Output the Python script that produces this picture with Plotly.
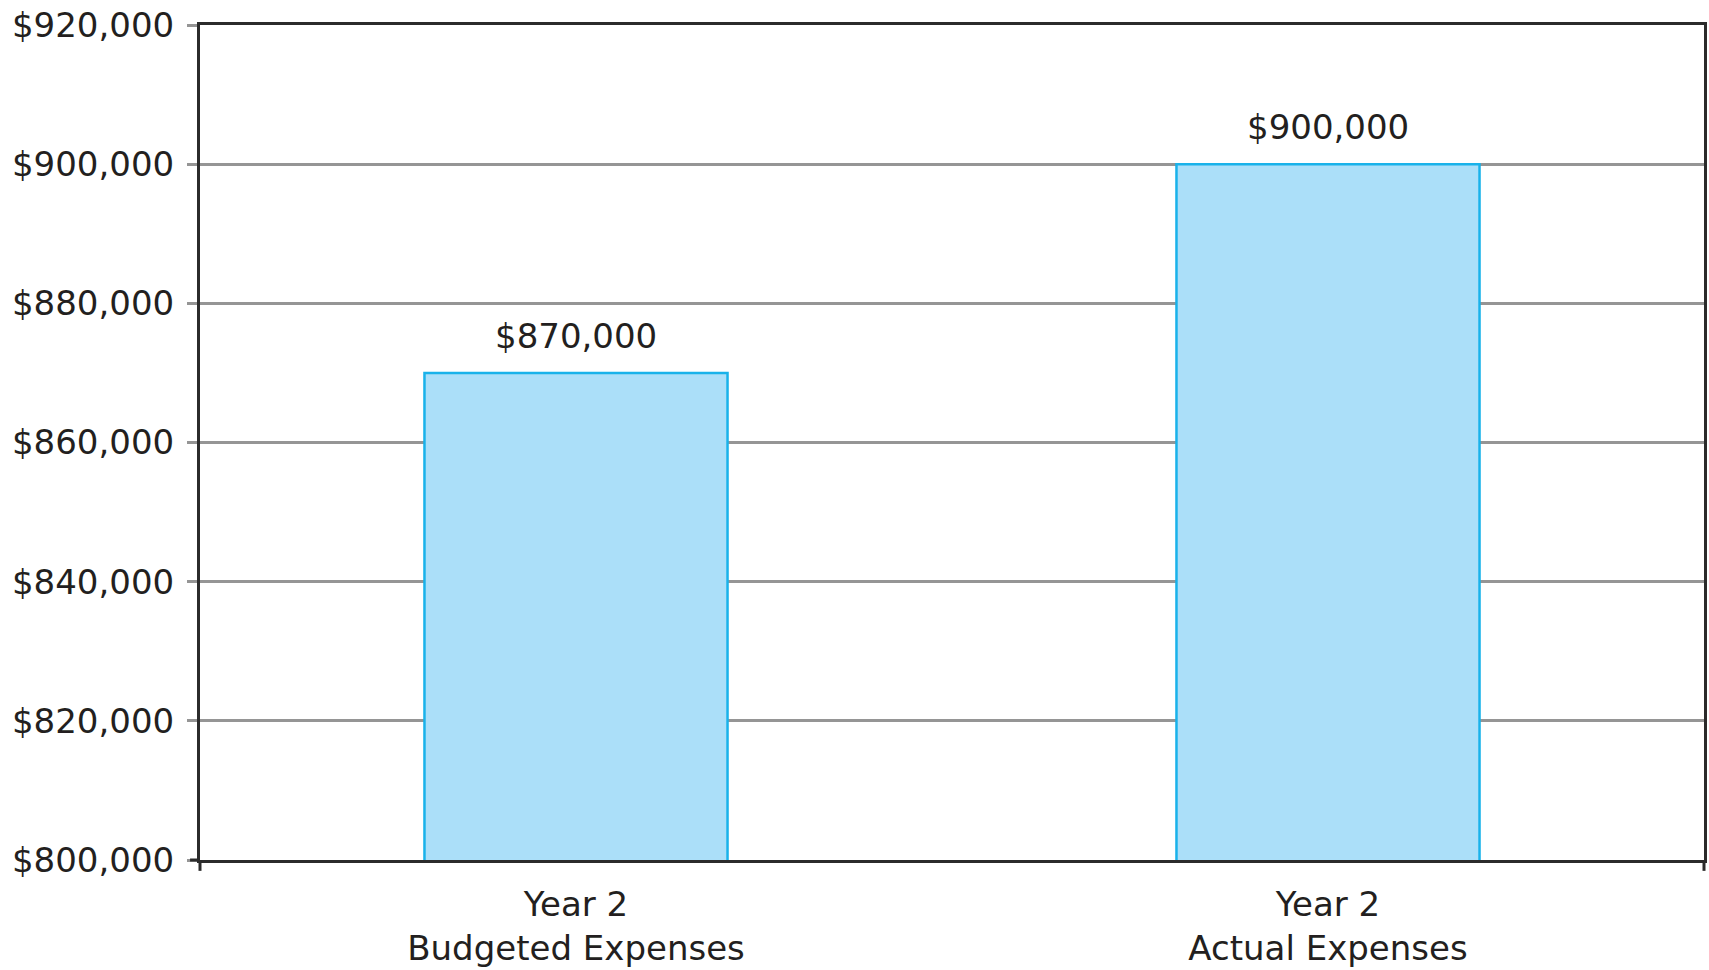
import plotly.graph_objects as go

# Expense comparison data
categories = ["Year 2<br>Budgeted Expenses", "Year 2<br>Actual Expenses"]
expenses = [870000, 900000]
y_ticks = [800000, 820000, 840000, 860000, 880000, 900000, 920000]

FONT = "DejaVu Sans"
FONT_SIZE = 34
TEXT_COLOR = "#231f20"
AXIS_COLOR = "#2b2b2b"
GRID_COLOR = "#959595"

fig = go.Figure()
fig.add_trace(go.Bar(
    x=categories,
    y=expenses,
    marker=dict(color="#abdff9", line=dict(color="#19b2ea", width=2.5)),
    hoverinfo="skip",
))

# Value labels above each bar
for cat, val in zip(categories, expenses):
    fig.add_annotation(
        x=cat, y=val, text=f"${val:,.0f}", showarrow=False,
        yanchor="bottom", yshift=15,
        font=dict(family=FONT, size=FONT_SIZE, color=TEXT_COLOR),
    )

# Short dark extensions of the frame below the bottom axis and left of the baseline
frame_bits = [
    dict(x0=0, x1=0, y0=-0.013, y1=0),
    dict(x0=1, x1=1, y0=-0.013, y1=0),
    dict(x0=-0.0066, x1=0, y0=0, y1=0),
]
for b in frame_bits:
    fig.add_shape(type="line", xref="paper", yref="paper",
                  line=dict(color=AXIS_COLOR, width=3), **b)

fig.update_layout(
    width=1709, height=970,
    margin=dict(l=200, r=2, t=25, b=108),
    paper_bgcolor="white", plot_bgcolor="white",
    bargap=0.597,
    showlegend=False,
    font=dict(family=FONT, size=FONT_SIZE, color=TEXT_COLOR),
)
fig.update_xaxes(
    showline=True, mirror=True, linecolor=AXIS_COLOR, linewidth=3,
    ticks="", showgrid=False, ticklabelstandoff=12,
    tickfont=dict(family=FONT, size=FONT_SIZE, color=TEXT_COLOR),
)
fig.update_yaxes(
    range=[800000, 920000], tickvals=y_ticks, tickformat="$,.0f",
    showline=True, mirror=True, linecolor=AXIS_COLOR, linewidth=3,
    showgrid=True, gridcolor=GRID_COLOR, gridwidth=2.5,
    ticks="outside", ticklen=10, tickwidth=2.5, tickcolor=GRID_COLOR,
    ticklabelstandoff=6, zeroline=False,
    tickfont=dict(family=FONT, size=FONT_SIZE, color=TEXT_COLOR),
)

fig.write_html("out.html")
